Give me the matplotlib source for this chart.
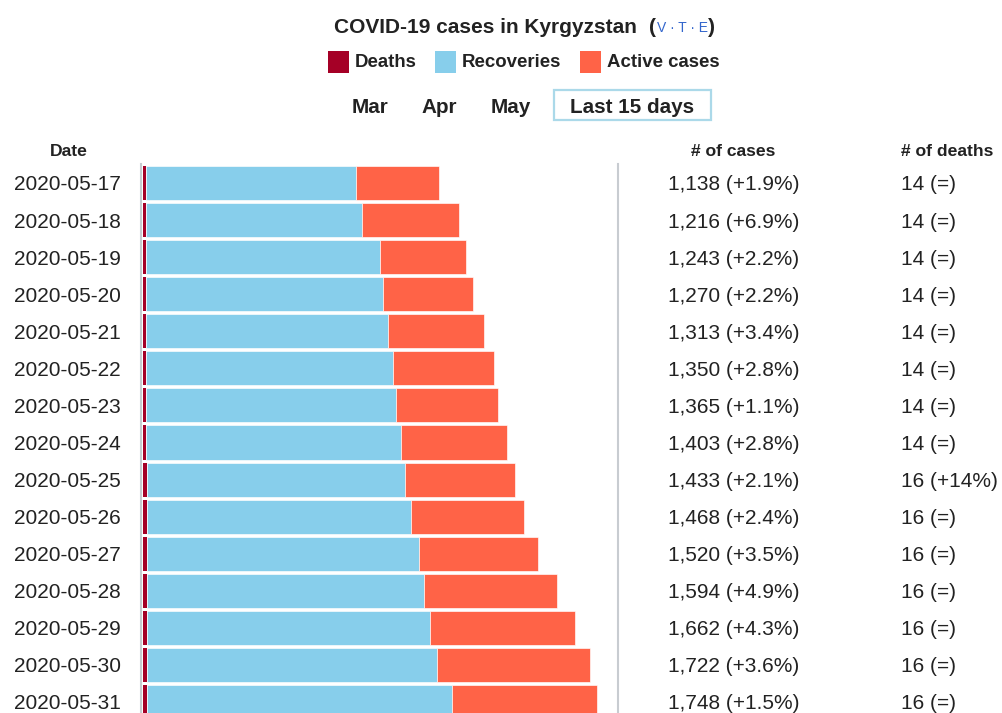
import matplotlib
matplotlib.use("Agg")
import matplotlib.pyplot as plt
from matplotlib.patches import Rectangle
from matplotlib import transforms

plt.rcParams['font.family'] = ['Liberation Sans', 'DejaVu Sans']

# ---------------- data ----------------
dates = ["2020-05-17", "2020-05-18", "2020-05-19", "2020-05-20", "2020-05-21",
         "2020-05-22", "2020-05-23", "2020-05-24", "2020-05-25", "2020-05-26",
         "2020-05-27", "2020-05-28", "2020-05-29", "2020-05-30", "2020-05-31"]
cases = [1138, 1216, 1243, 1270, 1313, 1350, 1365, 1403, 1433, 1468,
         1520, 1594, 1662, 1722, 1748]
case_change = ["+1.9%", "+6.9%", "+2.2%", "+2.2%", "+3.4%", "+2.8%", "+1.1%",
               "+2.8%", "+2.1%", "+2.4%", "+3.5%", "+4.9%", "+4.3%", "+3.6%", "+1.5%"]
deaths = [14, 14, 14, 14, 14, 14, 14, 14, 16, 16, 16, 16, 16, 16, 16]
death_change = ["=", "=", "=", "=", "=", "=", "=", "=", "+14%", "=", "=", "=", "=", "=", "="]
recoveries = [805, 831, 899, 911, 931, 950, 961, 981, 992, 1016,
              1048, 1066, 1090, 1116, 1172]
active = [c - d - r for c, d, r in zip(cases, deaths, recoveries)]

legend_labels = ["Deaths", "Recoveries", "Active cases"]
buttons = ["Mar", "Apr", "May", "Last 15 days"]
headers = ["Date", "# of cases", "# of deaths"]
title = "COVID-19 cases in Kyrgyzstan"

c_death = "#A50026"
c_rec = "#87CEEB"
c_act = "#FF6347"
txt = "#222222"

# ---------------- layout ----------------
W, H = 1002, 713
fig = plt.figure(figsize=(W / 100, H / 100), dpi=100)

def fx(px):
    return px / W

def fy(py):
    return 1 - py / H

px_per_case = 0.26
x0_px = 142.7
ax_left, ax_right, ax_top = 140.5, 618.3, 164
ax = fig.add_axes([fx(ax_left), 0, fx(ax_right) - fx(ax_left), fy(ax_top)])
ax.set_xlim((ax_left - x0_px) / px_per_case, (ax_right - x0_px) / px_per_case)
row_px = 37.07
row0_px = 183
ax.set_ylim((H - row0_px) / row_px, (ax_top - row0_px) / row_px)

y = list(range(len(dates)))
bh = 0.92
ax.barh(y, deaths, left=0, height=bh, color=c_death, edgecolor="none", linewidth=0)
ax.barh(y, recoveries, left=deaths, height=bh, color=c_rec, edgecolor="white", linewidth=0.45)
left_act = [d + r for d, r in zip(deaths, recoveries)]
ax.barh(y, active, left=left_act, height=bh, color=c_act, edgecolor="white", linewidth=0.45)

for s in ["top", "bottom"]:
    ax.spines[s].set_visible(False)
for s in ["left", "right"]:
    ax.spines[s].set_color("#c8ccd1")
    ax.spines[s].set_linewidth(1.5)
ax.set_xticks([])
ax.set_yticks([])
ax.patch.set_alpha(0)

# row texts: x in figure coords, y in data coords, baseline shifted down
blend = transforms.blended_transform_factory(fig.transFigure, ax.transData)
row_t = transforms.offset_copy(blend, fig=fig, x=0, y=-7.5, units="dots")

for i in range(len(dates)):
    fig.text(fx(121), i, dates[i], transform=row_t, ha="right", va="baseline",
             fontsize=15, color=txt, clip_on=False)
    fig.text(fx(734), i, f"{cases[i]:,} ({case_change[i]})", transform=row_t,
             ha="center", va="baseline", fontsize=15, color=txt, clip_on=False)
    fig.text(fx(901), i, f"{deaths[i]} ({death_change[i]})", transform=row_t,
             ha="left", va="baseline", fontsize=15, color=txt, clip_on=False)

# headers
fig.text(fx(69), fy(155.5), headers[0], ha="center", va="baseline", fontsize=12.6,
         fontweight="bold", color=txt)
fig.text(fx(733), fy(155.5), headers[1], ha="center", va="baseline", fontsize=12.6,
         fontweight="bold", color=txt)
fig.text(fx(901), fy(155.5), headers[2], ha="left", va="baseline", fontsize=12.6,
         fontweight="bold", color=txt)

# title
fig.text(fx(334), fy(32.8), title, ha="left", va="baseline", fontsize=15,
         fontweight="bold", color=txt)
fig.text(fx(649), fy(32.8), "(", ha="left", va="baseline", fontsize=15,
         fontweight="bold", color=txt)
fig.text(fx(682.4), fy(32.5), "V · T · E", ha="center", va="baseline", fontsize=10,
         color="#3366cc")
fig.text(fx(715), fy(32.8), ")", ha="right", va="baseline", fontsize=15,
         fontweight="bold", color=txt)

# legend
leg_sq = [328.3, 435, 580]
leg_tx = [355, 462, 606.7]
for sx, tx, lab, col in zip(leg_sq, leg_tx, legend_labels, [c_death, c_rec, c_act]):
    fig.patches.append(Rectangle((fx(sx), fy(72.7)), fx(21), 22 / H, transform=fig.transFigure,
                                 facecolor=col, edgecolor="none"))
    fig.text(fx(tx), fy(67), lab, ha="left", va="baseline", fontsize=13.4,
             fontweight="bold", color=txt)

# buttons
btn_x = [370, 439, 511, 632]
for bx, lab in zip(btn_x, buttons):
    fig.text(fx(bx), fy(112.8), lab, ha="center", va="baseline", fontsize=14.9,
             fontweight="bold", color=txt)
fig.patches.append(Rectangle((fx(553.5), fy(119.5)), fx(157.5), 29 / H,
                             transform=fig.transFigure, facecolor="none",
                             edgecolor="#abd9e9", linewidth=1.6))

fig.savefig("out.png", dpi=100)
